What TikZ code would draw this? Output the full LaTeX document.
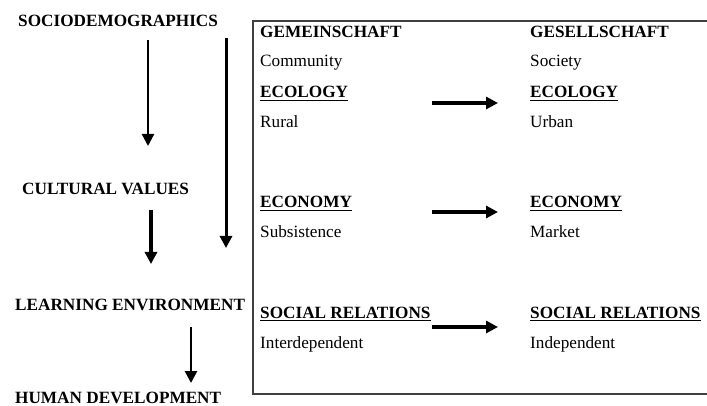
\documentclass[tikz,border=0pt]{standalone}
\usepackage{fontspec}
\setmainfont{Liberation Serif}
\usetikzlibrary{arrows.meta}

\begin{document}
\begin{tikzpicture}[
  x=1pt, y=-1pt,
  font=\fontsize{17.2}{17.2}\selectfont,
  txt/.style={anchor=base west, inner sep=0pt},
  head/.style={txt, font=\fontsize{17.2}{17.2}\selectfont\bfseries},
  uline/.style={line width=1.7pt, draw=black},
  flow/.style={line width=2.2pt, -{Triangle[length=12pt,width=12pt]}},
  change/.style={line width=3.3pt, -{Triangle[length=12pt,width=12pt]}},
  frame/.style={line width=1.3pt, draw=black!75}
]
\useasboundingbox (0,0) rectangle (707,406);

% ===================== LEFT: causal chain =====================
\node[head] (socio) at (18,27)  {SOCIODEMOGRAPHICS};
\node[head] (cult)  at (22,195) {CULTURAL VALUES};
\node[head] (learn) at (15,310) {LEARNING ENVIRONMENT};
\node[head] (human) at (15,403) {HUMAN DEVELOPMENT};

% arrow end points
\coordinate (a1s) at (148,40);   \coordinate (a1e) at (148,146);
\coordinate (a2s) at (151,210);  \coordinate (a2e) at (151,264);
\coordinate (a3s) at (191,327);  \coordinate (a3e) at (191,383);
\coordinate (lgs) at (226,38);   \coordinate (lge) at (226,248);

\draw[flow] (a1s) -- (a1e);
\draw[flow, line width=3.3pt] (a2s) -- (a2e);
\draw[flow, line width=2.6pt] (a3s) -- (a3e);
\draw[flow, line width=3pt] (lgs) -- (lge);

% ===================== RIGHT: frame =====================
\draw[frame] (707,21) -- (253,21) -- (253,394) -- (707,394);

% Gemeinschaft column
\node[head] (gem)   at (260,38)  {GEMEINSCHAFT};
\node[txt]  (comm)  at (260,67)  {Community};
\node[head] (ecoL)  at (260,98)  {ECOLOGY};
\node[txt]  (rural) at (260,128) {Rural};
\node[head] (econL) at (260,208) {ECONOMY};
\node[txt]  (subs)  at (260,238) {Subsistence};
\node[head] (socL)  at (260,318) {SOCIAL RELATIONS};
\node[txt]  (inter) at (260,348) {Interdependent};

% Gesellschaft column
\node[head] (ges)   at (530,38)  {GESELLSCHAFT};
\node[txt]  (soc)   at (530,67)  {Society};
\node[head] (ecoR)  at (530,98)  {ECOLOGY};
\node[txt]  (urban) at (530,128) {Urban};
\node[head] (econR) at (530,208) {ECONOMY};
\node[txt]  (mark)  at (530,238) {Market};
\node[head] (socR)  at (530,318) {SOCIAL RELATIONS};
\node[txt]  (indep) at (530,348) {Independent};

% Underlines
\foreach \n in {ecoL,ecoR,econL,econR,socL,socR}
  \draw[uline] ([yshift=-2.5pt]\n.base west) -- ([yshift=-2.5pt]\n.base east);

% Change arrows
\coordinate (e1) at (432,103);  \coordinate (e2) at (498,103);
\coordinate (m1) at (432,212);  \coordinate (m2) at (498,212);
\coordinate (s1) at (432,327);  \coordinate (s2) at (498,327);

\draw[change] (e1) -- (e2);
\draw[change] (m1) -- (m2);
\draw[change] (s1) -- (s2);

\end{tikzpicture}
\end{document}
